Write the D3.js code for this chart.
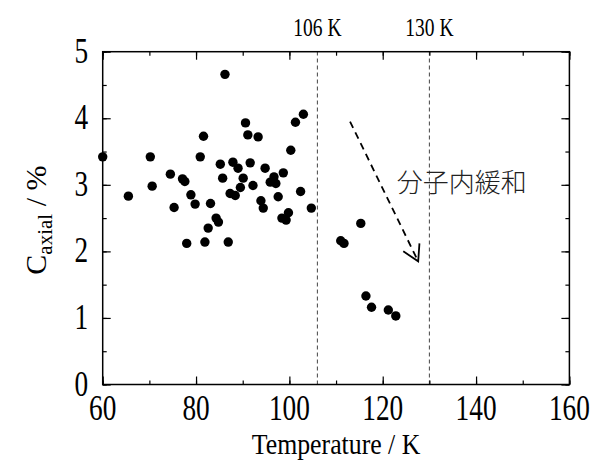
<!DOCTYPE html>
<html><head><meta charset="utf-8">
<script src="https://cdn.jsdelivr.net/npm/d3@7"></script>
<style>body{margin:0;background:#fff}svg{display:block}</style>
</head><body>
<script>
const temperature = [60.0,86.2,90.6,103.0,101.3,81.6,91.1,93.3,100.3,70.2,80.9,65.5,70.6,74.5,77.1,77.6,78.9,79.8,75.3,83.1,85.2,87.9,89.0,85.7,90.1,91.6,89.5,87.3,88.4,92.2,94.8,95.9,96.7,97.1,98.7,97.6,102.4,104.7,93.9,94.4,98.4,99.3,99.8,84.3,84.8,82.6,78.0,81.9,86.9,111.0,111.7,115.3,116.4,117.6,121.2,122.8];
const caxial = [3.42,4.66,3.93,4.06,3.94,3.73,3.75,3.72,3.52,3.42,3.42,2.83,2.98,3.16,3.09,3.05,2.85,2.71,2.66,2.72,3.31,3.34,3.25,3.10,3.10,3.33,2.96,2.87,2.84,2.99,3.25,3.04,3.12,3.02,3.18,2.82,2.90,2.65,2.76,2.65,2.50,2.47,2.58,2.50,2.44,2.35,2.12,2.14,2.14,2.16,2.12,2.42,1.33,1.16,1.12,1.03];
const xTicks = [60,80,100,120,140,160];
const yTicks = [0,1,2,3,4,5];
const markers = [106,130];
const markerLabels = ["106 K","130 K"];
const arrowFrom = [113.0,3.95];
const arrowTo = [127.6,1.85];
const noteText = "分子内緩和";
const notePos = [123.0,3.08];

const W=598,H=460;
const m={l:102.7,r:28.6,t:51.7,b:75.5};
const svg=d3.select("body").append("svg").attr("width",W).attr("height",H);
const x=d3.scaleLinear().domain([60,160]).range([m.l,W-m.r]);
const y=d3.scaleLinear().domain([0,5]).range([H-m.b,m.t]);
const serif="Liberation Serif";

function label(px,py,txt,size,anchor,sx){
  const g=svg.append("g").attr("transform",`translate(${px},${py}) scale(${sx||0.78},1)`);
  return g.append("text").attr("x",0).attr("y",0).attr("text-anchor",anchor||"middle")
    .style("font-family",serif).style("font-size",size+"px").attr("fill","#000").text(txt);
}

// marker dashed lines
svg.append("g").selectAll("line").data(markers).join("line")
  .attr("x1",d=>x(d)).attr("x2",d=>x(d)).attr("y1",y(0)).attr("y2",y(5))
  .attr("stroke","#444").attr("stroke-width",1).attr("stroke-dasharray","4,3");
markers.forEach((d,i)=>label(x(d),y(5)-16,markerLabels[i],25));

// axes with inward ticks (labels drawn separately)
function ax(g){g.selectAll(".domain").remove();g.selectAll("text").remove();g.selectAll("line").attr("stroke","#000").attr("stroke-width",1.2);}
const xMinor=d3.range(60,161,10), yMinor=d3.range(0,5.01,0.5);
[[d3.axisBottom,y(0)],[d3.axisTop,y(5)]].forEach(([f,py])=>{
  svg.append("g").attr("transform",`translate(0,${py})`).call(f(x).tickValues(xMinor).tickSize(-4)).call(ax);
  svg.append("g").attr("transform",`translate(0,${py})`).call(f(x).tickValues(xTicks).tickSize(-8)).call(ax);
});
[[d3.axisLeft,x(60)],[d3.axisRight,x(160)]].forEach(([f,px])=>{
  svg.append("g").attr("transform",`translate(${px},0)`).call(f(y).tickValues(yMinor).tickSize(-4)).call(ax);
  svg.append("g").attr("transform",`translate(${px},0)`).call(f(y).tickValues(yTicks).tickSize(-8)).call(ax);
});
svg.append("rect").attr("x",x(60)).attr("y",y(5)).attr("width",x(160)-x(60)).attr("height",y(0)-y(5))
  .attr("fill","none").attr("stroke","#000").attr("stroke-width",1.5);

// tick labels
xTicks.forEach(d=>label(x(d),y(0)+35,d3.format("d")(d),35));
yTicks.forEach(d=>label(x(60)-14.5,y(d)+11,d3.format("d")(d),35,"end"));

// points
svg.append("g").selectAll("circle").data(temperature).join("circle")
  .attr("cx",d=>x(d)).attr("cy",(d,i)=>y(caxial[i])).attr("r",4.7).attr("fill","#000");

// arrow
const x1=x(arrowFrom[0]),y1=y(arrowFrom[1]),x2=x(arrowTo[0]),y2=y(arrowTo[1]);
svg.append("line").attr("x1",x1).attr("y1",y1).attr("x2",x2).attr("y2",y2)
  .attr("stroke","#000").attr("stroke-width",1.8).attr("stroke-dasharray","7,5");
const ang=Math.atan2(y2-y1,x2-x1), L=18, half=Math.PI/6;
const p1=[x2-L*Math.cos(ang-half),y2-L*Math.sin(ang-half)];
const p2=[x2-L*Math.cos(ang+half),y2-L*Math.sin(ang+half)];
svg.append("path").attr("d",`M${p1}L${x2},${y2}L${p2}`).attr("fill","none").attr("stroke","#000").attr("stroke-width",1.8);
svg.append("text").attr("x",x(notePos[0])).attr("y",y(notePos[1])+1).attr("dominant-baseline","central")
  .style("font-family","Noto Sans CJK JP").style("font-weight",300).style("font-size","26px").attr("fill","#222").text(noteText);

// axis titles
label((x(60)+x(160))/2,H-6,"Temperature / K",30,"middle",0.86);
const yl=svg.append("text").attr("transform",`translate(46,${(y(0)+y(5))/2+2}) rotate(-90)`).attr("text-anchor","middle")
  .style("font-family",serif).style("font-size","30px");
yl.append("tspan").text("C");
yl.append("tspan").style("font-size","21px").attr("dy",6).text("axial");
yl.append("tspan").attr("dy",-6).text(" / %");
</script>
</body></html>
